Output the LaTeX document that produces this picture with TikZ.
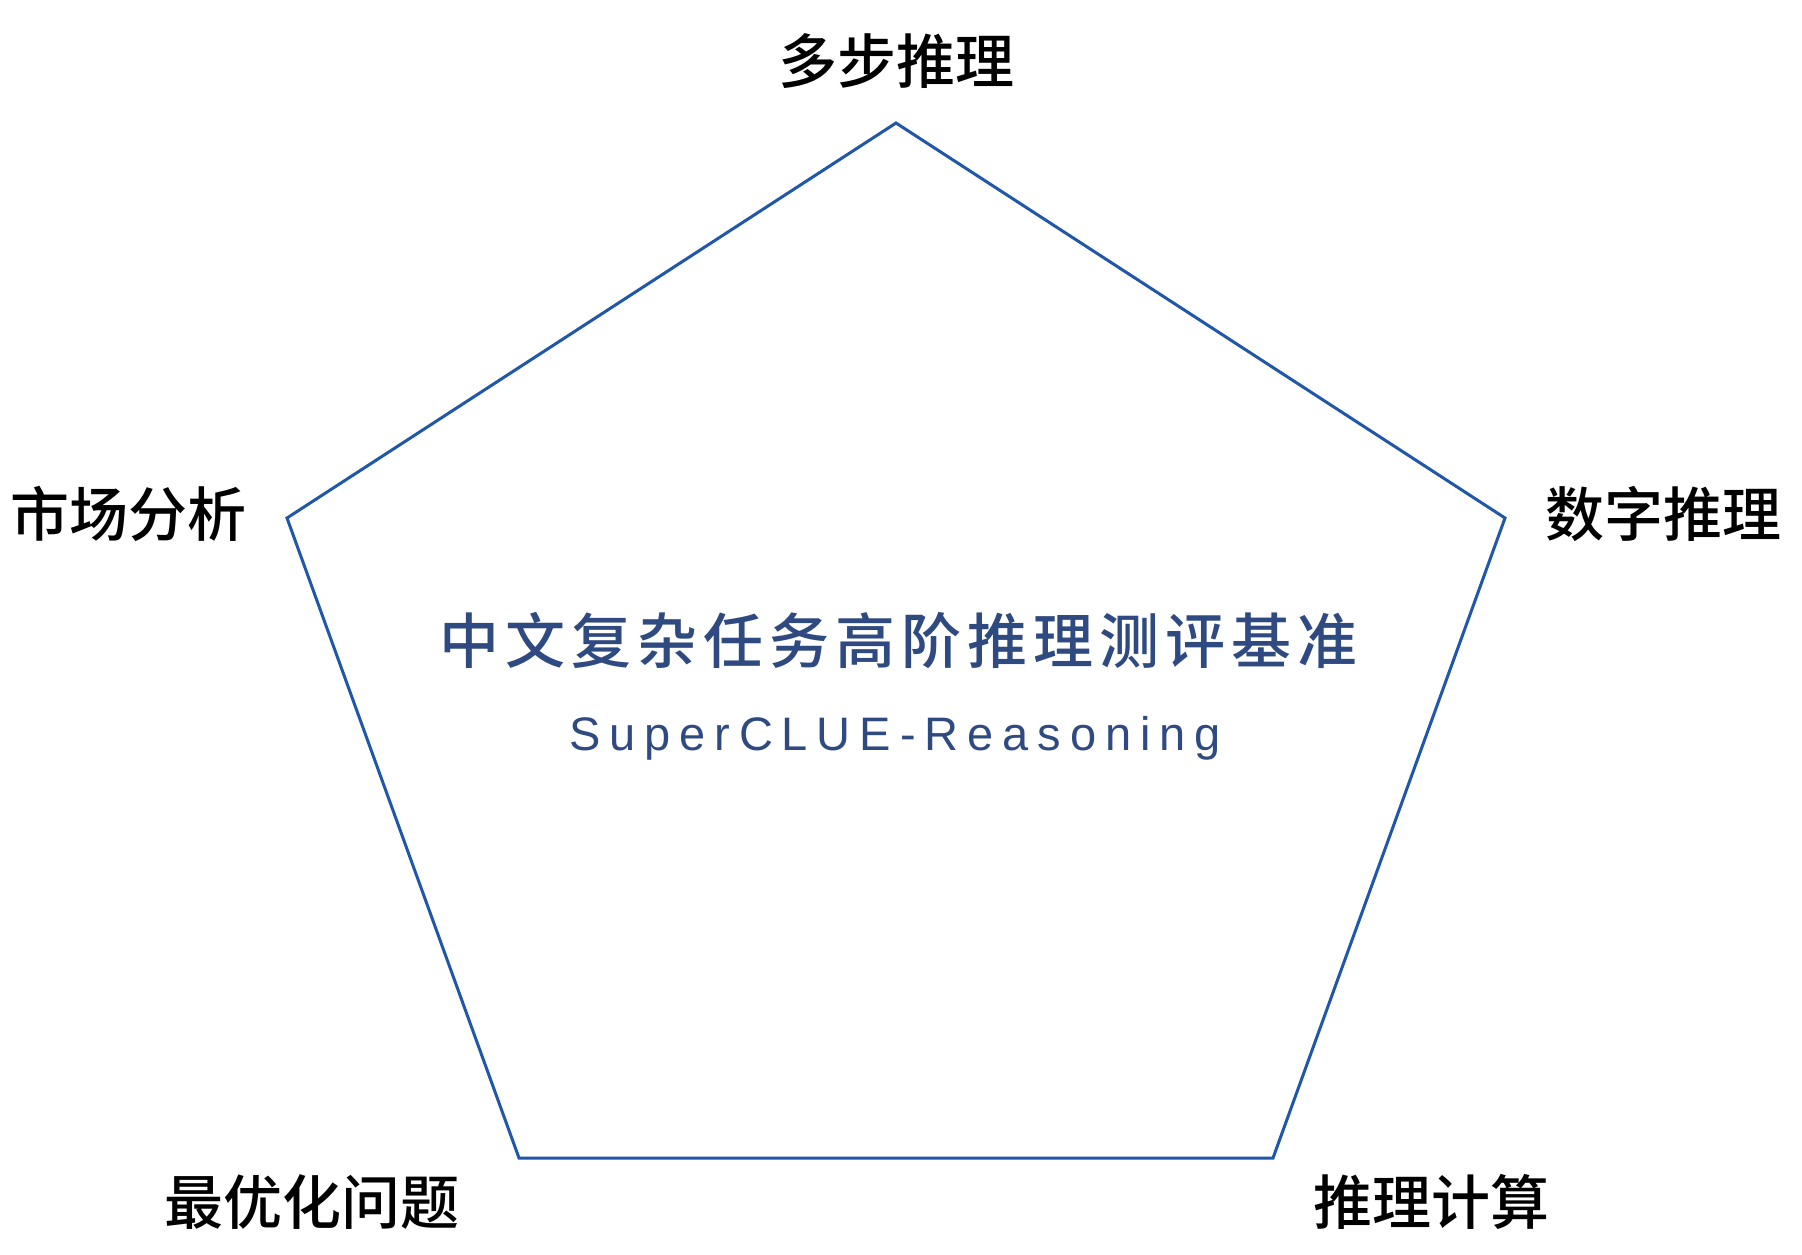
\documentclass[tikz,border=0pt]{standalone}
\usepackage{fontspec}
\setmainfont{Liberation Sans}
\newfontfamily\cjklab{Noto Sans CJK SC}[UprightFont=* Medium]
\newfontfamily\cjktitle{Noto Sans CJK SC}[UprightFont=* Medium, LetterSpace=10]
\newfontfamily\entitle[LetterSpace=19]{Liberation Sans}
\definecolor{pentblue}{HTML}{2157A8}
\definecolor{titleblue}{HTML}{2E4A80}
\tikzset{
  pent/.style={draw=pentblue, line width=3pt, line join=miter},
  lab/.style={inner sep=0pt, text=black, font=\cjklab\fontsize{59}{60}\selectfont},
  ztitle/.style={inner sep=0pt, text=titleblue, font=\cjktitle\fontsize{60}{62}\selectfont},
  etitle/.style={inner sep=0pt, text=titleblue, font=\entitle\fontsize{47}{50}\selectfont},
}
\begin{document}
\begin{tikzpicture}[x=1pt,y=-1pt]
\useasboundingbox[fill=white] (0,0) rectangle (1802,1254);
\coordinate (A) at (896,123);
\coordinate (B) at (1505,518);
\coordinate (C) at (1273,1158);
\coordinate (D) at (519,1158);
\coordinate (E) at (287,518);
\draw[pent] (A) -- (B) -- (C) -- (D) -- (E) -- cycle;
\node[lab] (lA) at (896,61) {多步推理};
\node[lab] (lB) at (1663,514) {数字推理};
\node[lab] (lC) at (1431,1202) {推理计算};
\node[lab] (lD) at (312,1202) {最优化问题};
\node[lab] (lE) at (128,514) {市场分析};
\node[ztitle] (zt) at (898,641) {中文复杂任务高阶推理测评基准};
\node[etitle, anchor=base] (et) at (895,750) {SuperCLUE-Reasoning};
\end{tikzpicture}
\end{document}
